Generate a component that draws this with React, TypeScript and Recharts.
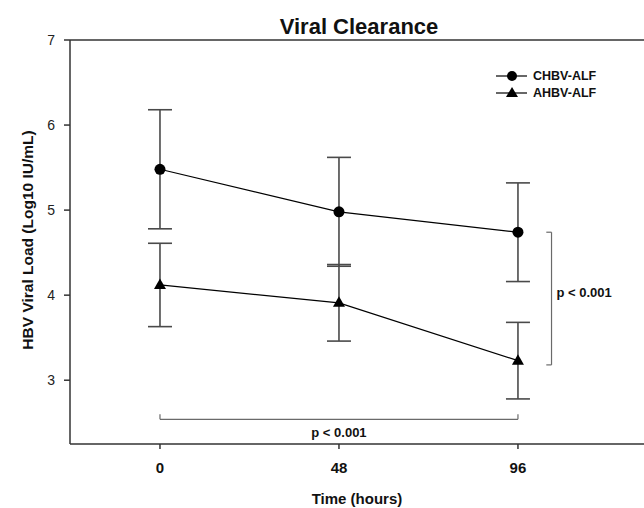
import React from "react"
import {
  ComposedChart,
  Line,
  ErrorBar,
  XAxis,
  YAxis,
  ReferenceLine,
  ReferenceDot,
} from "recharts"

// values
const hours = [0, 48, 96]
const chbvMean = [5.48, 4.98, 4.74]
const chbvSd = [0.7, 0.64, 0.58]
const ahbvMean = [4.12, 3.91, 3.23]
const ahbvSd = [0.49, 0.45, 0.45]

const xTicks = [0, 48, 96]
const yTicks = [3, 4, 5, 6, 7]

const data = hours.map((h, i) => ({
  time: h,
  chbv: chbvMean[i],
  chbvSd: chbvSd[i],
  ahbv: ahbvMean[i],
  ahbvSd: ahbvSd[i],
}))

const FONT = "'Liberation Sans', Arial, Helvetica, sans-serif"
const BRACKET = "#6a6a6a"

function CircleDot(props: any) {
  const { cx, cy, index } = props
  return <circle key={`c-${index}`} cx={cx} cy={cy} r={5.5} fill="#000" />
}

function TriangleDot(props: any) {
  const { cx, cy, index } = props
  return (
    <polygon
      key={`t-${index}`}
      points={`${cx},${cy - 6.5} ${cx + 6},${cy + 4} ${cx - 6},${cy + 4}`}
      fill="#000"
    />
  )
}

function LegendBox() {
  const rows = [
    { name: "CHBV-ALF", shape: "circle" },
    { name: "AHBV-ALF", shape: "triangle" },
  ]
  return (
    <div
      style={{
        position: "absolute",
        left: 496,
        top: 68,
        fontFamily: FONT,
      }}
    >
      {rows.map((r) => (
        <div
          key={r.name}
          style={{ display: "flex", alignItems: "center", height: 16.5 }}
        >
          <svg width={32} height={14}>
            <line x1={0} y1={7} x2={31} y2={7} stroke="#000" strokeWidth={1.2} />
            {r.shape === "circle" ? (
              <circle cx={16} cy={7} r={5} fill="#000" />
            ) : (
              <polygon points="16,1 22,11 10,11" fill="#000" />
            )}
          </svg>
          <span
            style={{
              marginLeft: 5,
              fontSize: 12.5,
              fontWeight: "bold",
              color: "#111",
            }}
          >
            {r.name}
          </span>
        </div>
      ))}
    </div>
  )
}

function YLabel(props: any) {
  const vb = props.viewBox
  const x = 27
  const y = vb.y + vb.height / 2 - 2
  return (
    <text
      x={x}
      y={y}
      transform={`rotate(-90 ${x} ${y})`}
      textAnchor="middle"
      dominantBaseline="central"
      fontFamily={FONT}
      fontSize={15.5}
      fontWeight="bold"
      fill="#111"
    >
      HBV Viral Load (Log10 IU/mL)
    </text>
  )
}

const pLabel = {
  fontFamily: FONT,
  fontSize: 13,
  fontWeight: "bold",
  fill: "#111",
}

export default function App() {
  return (
    <div
      style={{
        position: "absolute",
        left: 0,
        top: 0,
        width: 644,
        height: 508,
        background: "#fff",
      }}
    >
      <div
        style={{
          position: "absolute",
          left: 0,
          width: 718,
          top: 14,
          textAlign: "center",
          fontFamily: FONT,
          fontWeight: "bold",
          fontSize: 22,
          color: "#111",
        }}
      >
        Viral Clearance
      </div>
      <ComposedChart
        width={644}
        height={508}
        data={data}
        margin={{ top: 40, right: 0, left: 0, bottom: 0 }}
      >
        <XAxis
          dataKey="time"
          type="number"
          domain={[-24.13, 129.8]}
          allowDataOverflow
          ticks={xTicks}
          height={64}
          tickSize={5}
          tickMargin={13}
          axisLine={{ stroke: "#333", strokeWidth: 1.5 }}
          tickLine={{ stroke: "#333", strokeWidth: 1.5 }}
          tick={{ fill: "#111", fontSize: 15, fontWeight: "bold", fontFamily: FONT }}
          label={{
            value: "Time (hours)",
            position: "insideBottom",
            offset: 4,
            fill: "#111",
            fontSize: 15,
            fontWeight: "bold",
            fontFamily: FONT,
          }}
        />
        <YAxis
          type="number"
          domain={[2.25, 7]}
          allowDataOverflow
          ticks={yTicks}
          width={70}
          tickSize={6}
          tickMargin={9}
          axisLine={{ stroke: "#333", strokeWidth: 1.5 }}
          tickLine={{ stroke: "#333", strokeWidth: 1.5 }}
          tick={{ fill: "#222", fontSize: 14, fontFamily: FONT }}
          label={{ content: YLabel }}
        />
        <ReferenceLine y={7} stroke="#333" strokeWidth={1.5} />

        {/* significance brackets */}
        <ReferenceLine
          segment={[{ x: 0, y: 2.54 }, { x: 96, y: 2.54 }]}
          stroke={BRACKET}
          strokeWidth={1.2}
        />
        <ReferenceLine
          segment={[{ x: 0, y: 2.54 }, { x: 0, y: 2.6 }]}
          stroke={BRACKET}
          strokeWidth={1.2}
        />
        <ReferenceLine
          segment={[{ x: 96, y: 2.54 }, { x: 96, y: 2.6 }]}
          stroke={BRACKET}
          strokeWidth={1.2}
        />
        <ReferenceDot
          x={48}
          y={2.39}
          r={0}
          stroke="none"
          label={{ value: "p < 0.001", position: "center", ...pLabel }}
        />
        <ReferenceLine
          segment={[{ x: 105, y: 4.74 }, { x: 105, y: 3.18 }]}
          stroke={BRACKET}
          strokeWidth={1.2}
        />
        <ReferenceLine
          segment={[{ x: 103.6, y: 4.74 }, { x: 105, y: 4.74 }]}
          stroke={BRACKET}
          strokeWidth={1.2}
        />
        <ReferenceLine
          segment={[{ x: 103.6, y: 3.18 }, { x: 105, y: 3.18 }]}
          stroke={BRACKET}
          strokeWidth={1.2}
        />
        <ReferenceDot
          x={105}
          y={4.035}
          r={0}
          stroke="none"
          label={{ value: "p < 0.001", position: "right", offset: 5, ...pLabel }}
        />

        <Line
          dataKey="chbv"
          name="CHBV-ALF"
          stroke="#000"
          strokeWidth={1.2}
          dot={CircleDot}
          activeDot={false}
          isAnimationActive={false}
        >
          <ErrorBar
            dataKey="chbvSd"
            direction="y"
            width={12}
            stroke="#4a4a4a"
            strokeWidth={1.6}
            isAnimationActive={false}
          />
        </Line>
        <Line
          dataKey="ahbv"
          name="AHBV-ALF"
          stroke="#000"
          strokeWidth={1.2}
          dot={TriangleDot}
          activeDot={false}
          isAnimationActive={false}
        >
          <ErrorBar
            dataKey="ahbvSd"
            direction="y"
            width={12}
            stroke="#4a4a4a"
            strokeWidth={1.6}
            isAnimationActive={false}
          />
        </Line>
      </ComposedChart>
      <LegendBox />
    </div>
  )
}
